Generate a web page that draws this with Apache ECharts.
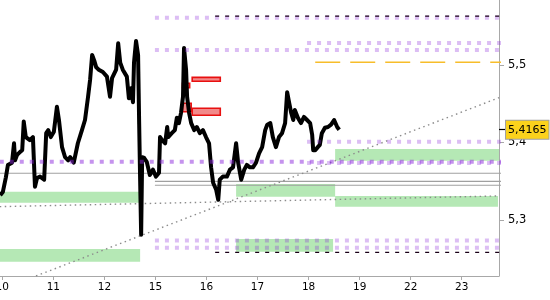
<!DOCTYPE html>
<html>
<head>
<meta charset="utf-8">
<script src="https://cdn.jsdelivr.net/npm/echarts@6/dist/echarts.min.js"></script>
<style>html,body{margin:0;padding:0;background:#fff}#c{width:550px;height:300px}</style>
</head>
<body>
<div id="c"></div>
<script>
// ---- data ----
const days = ['10','11','12','15','16','17','18','19','22','23'];
const dayPos = [0,1,2,3,4,5,6,7,8,9];
const yTicks = [5.3, 5.4, 5.5];
const lastPrice = 5.4165;

const priceIdx = [-0.04,0.01,0.07,0.11,0.19,0.23,0.25,0.29,0.35,0.39,0.42,0.46,0.54,0.60,0.64,0.68,0.74,0.82,0.86,0.90,0.95,1.01,1.07,1.11,1.17,1.23,1.29,1.33,1.40,1.48,1.56,1.62,1.68,1.72,1.76,1.80,1.84,1.89,1.97,2.05,2.11,2.15,2.23,2.27,2.31,2.36,2.44,2.48,2.52,2.56,2.58,2.62,2.66,2.68,2.70,2.72,2.74,2.78,2.83,2.89,2.95,3.01,3.07,3.09,3.13,3.19,3.23,3.25,3.32,3.38,3.42,3.46,3.50,3.54,3.56,3.60,3.62,3.66,3.70,3.76,3.81,3.87,3.93,3.99,4.05,4.09,4.13,4.19,4.23,4.26,4.32,4.40,4.46,4.52,4.58,4.62,4.68,4.74,4.79,4.85,4.91,4.97,5.03,5.09,5.15,5.19,5.25,5.30,5.36,5.42,5.48,5.54,5.58,5.62,5.66,5.70,5.73,5.79,5.85,5.91,5.97,6.03,6.07,6.09,6.13,6.18,6.22,6.26,6.32,6.38,6.44,6.50,6.56,6.60];
const priceVal = [5.332,5.336,5.355,5.371,5.374,5.399,5.377,5.384,5.388,5.390,5.427,5.407,5.403,5.407,5.343,5.354,5.356,5.352,5.412,5.416,5.407,5.414,5.446,5.429,5.394,5.381,5.377,5.381,5.374,5.399,5.416,5.429,5.459,5.481,5.513,5.506,5.497,5.494,5.491,5.485,5.459,5.483,5.494,5.528,5.503,5.494,5.485,5.457,5.470,5.452,5.503,5.531,5.513,5.429,5.352,5.281,5.381,5.380,5.375,5.358,5.365,5.356,5.361,5.407,5.403,5.399,5.420,5.407,5.412,5.416,5.432,5.425,5.438,5.459,5.522,5.494,5.459,5.438,5.425,5.416,5.420,5.412,5.416,5.407,5.399,5.368,5.348,5.339,5.326,5.352,5.356,5.356,5.365,5.368,5.399,5.374,5.352,5.365,5.371,5.368,5.368,5.374,5.386,5.394,5.416,5.423,5.425,5.407,5.394,5.407,5.412,5.425,5.465,5.451,5.438,5.429,5.442,5.432,5.425,5.433,5.429,5.425,5.410,5.390,5.390,5.394,5.397,5.412,5.419,5.420,5.423,5.429,5.420,5.4165];

// horizontal levels: [start day position, value]
const lightPurpleLevels = [[2.99,5.561],[2.99,5.5194],[5.97,5.5284],[5.97,5.4010],[5.97,5.3735],[2.99,5.2734],[2.99,5.2643]];
const mediumPurpleLevels = [[-0.05,5.3752]];
const blackDashedLevels = [[4.17,5.5632],[4.17,5.2583]];
const orangeLevels = [[6.13,5.5035]];
const grayLevels = [[-0.05,5.3603],[2.99,5.3499],[2.99,5.3448]];

// zones: [x1, x2, yLow, yHigh]
const greenZones = [
  [-0.05, 2.70, 5.3223, 5.3365],
  [-0.05, 2.70, 5.2462, 5.2626],
  [4.58, 6.52, 5.3301, 5.3465],
  [6.52, 9.80, 5.3765, 5.3916],
  [6.52, 9.71, 5.3172, 5.3310],
  [4.58, 6.48, 5.2591, 5.2755]
];
const redZones = [
  [3.72, 4.27, 5.4790, 5.4841],
  [3.53, 3.67, 5.4707, 5.4764],
  [3.53, 3.70, 5.4397, 5.4506],
  [3.72, 4.27, 5.4351, 5.4441]
];
const trendLines = [
  [[-0.05, 5.3172], [9.73, 5.3310]],
  [[0.66, 5.2277], [9.73, 5.4578]]
];
const greenTick = [[2.66, 5.4471], [2.66, 5.4239]];

// ---- chart ----
const X_MIN = -0.045, X_MAX = 9.73, Y_MIN = 5.2277, Y_MAX = 5.5839;
const comma = (v, d) => v.toFixed(d).replace('.', ',');

function levelSeries(levels, style, z) {
  return levels.map(l => ({
    type: 'line', data: [[l[0], l[1]], [X_MAX + 0.2, l[1]]],
    showSymbol: false, symbol: 'none', silent: true, z: z,
    lineStyle: style
  }));
}
function rectSeries(zones, style, z) {
  return {
    type: 'custom', z: z, silent: true,
    data: zones,
    encode: { x: [0, 1], y: [2, 3] },
    renderItem: function (params, api) {
      const p1 = api.coord([api.value(0), api.value(3)]);
      const p2 = api.coord([api.value(1), api.value(2)]);
      const shape = echarts.graphic.clipRectByRect(
        { x: p1[0], y: p1[1], width: p2[0] - p1[0], height: p2[1] - p1[1] },
        { x: params.coordSys.x, y: params.coordSys.y, width: params.coordSys.width, height: params.coordSys.height });
      return shape && { type: 'rect', shape: shape, style: style };
    }
  };
}

const series = [];
series.push(rectSeries(greenZones, { fill: '#b5e8b5' }, 1));
series.push(...levelSeries(grayLevels, { color: '#a0a0a0', width: 1.2, type: 'solid' }, 2));
trendLines.forEach(t => series.push({
  type: 'line', data: t, showSymbol: false, symbol: 'none', silent: true, z: 2,
  lineStyle: { color: '#8c8c8c', width: 1.4, type: [1.5, 3.5] }
}));
series.push(...levelSeries(orangeLevels, { color: '#f7bd2a', width: 1.6, type: [25, 10] }, 2));
series.push(rectSeries(redZones, { fill: '#f28a8a', stroke: '#e81010', lineWidth: 1.6 }, 3));
series.push({
  type: 'line', data: greenTick, showSymbol: false, symbol: 'none', silent: true, z: 3,
  lineStyle: { color: '#9ad89a', width: 1 }
});
series.push({
  type: 'line', data: priceIdx.map((x, i) => [x, priceVal[i]]),
  showSymbol: false, symbol: 'none', z: 4, silent: true,
  lineStyle: { color: '#000', width: 4, join: 'round' }
});
series.push(...levelSeries(mediumPurpleLevels, { color: 'rgba(140,40,220,0.5)', width: 4, type: [4, 6], cap: 'butt' }, 5));
series.push(...levelSeries(lightPurpleLevels, { color: 'rgba(140,40,220,0.3)', width: 4, type: [4, 6], cap: 'butt' }, 5));
series.push(...levelSeries(blackDashedLevels, { color: '#1a0018', width: 1.3, type: [4, 6] }, 6));

const chart = echarts.init(document.getElementById('c'), null, { renderer: 'canvas' });
chart.setOption({
  animation: false,
  grid: { left: 0, right: 51, top: 0, bottom: 24, containLabel: false, outerBoundsMode: 'none' },
  xAxis: {
    type: 'value', min: X_MIN, max: X_MAX,
    axisLine: { show: true, onZero: false, lineStyle: { color: '#a8a8a8', width: 1 } },
    axisTick: { show: true, customValues: dayPos, length: 4, lineStyle: { color: '#a8a8a8' } },
    axisLabel: { customValues: dayPos, formatter: v => days[Math.round(v)], color: '#000',
      fontFamily: 'DejaVu Sans', fontSize: 10.5, margin: 6 },
    splitLine: { show: false }
  },
  yAxis: [{
    type: 'value', position: 'right', min: Y_MIN, max: Y_MAX,
    axisLine: { show: true, onZero: false, lineStyle: { color: '#a8a8a8', width: 1 } },
    axisTick: { show: true, customValues: yTicks, length: 5, lineStyle: { color: '#a8a8a8' } },
    axisLabel: { customValues: yTicks, formatter: v => comma(v, 1), color: '#000',
      fontFamily: 'DejaVu Sans', fontSize: 11.5, margin: 9 },
    splitLine: { show: false }
  }, {
    type: 'value', position: 'right', min: Y_MIN, max: Y_MAX, z: 10,
    axisLine: { show: false, onZero: false },
    axisTick: { show: true, customValues: [lastPrice], length: 6, lineStyle: { color: '#000', width: 1.2 } },
    axisLabel: { customValues: [lastPrice], formatter: v => comma(v, 4), color: '#000',
      fontFamily: 'DejaVu Sans', fontSize: 11, margin: 7,
      backgroundColor: '#fbd21c', borderColor: '#a0a0a0', borderWidth: 1, padding: [4, 2, 3, 2] },
    splitLine: { show: false }
  }],
  series: series
});
</script>
</body>
</html>
